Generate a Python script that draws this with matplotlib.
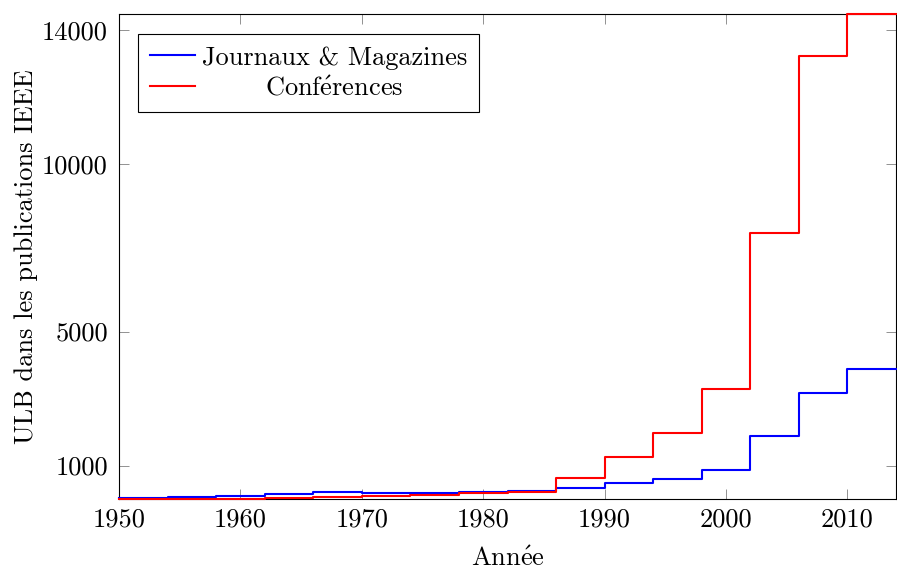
import matplotlib
matplotlib.use("Agg")
import matplotlib.pyplot as plt

plt.rcParams['font.family'] = 'serif'
plt.rcParams['font.serif'] = ['cmr10']
plt.rcParams['mathtext.fontset'] = 'cm'
plt.rcParams['axes.formatter.use_mathtext'] = True
plt.rcParams['axes.unicode_minus'] = False

years = [1950, 1954, 1958, 1962, 1966, 1970, 1974, 1978, 1982, 1986, 1990,
         1994, 1998, 2002, 2006, 2010, 2014]
journaux = [20, 45, 75, 135, 205, 175, 165, 205, 235, 325, 465,
            610, 880, 1885, 3175, 3870, 3870]
conferences = [5, 5, 10, 25, 45, 75, 105, 175, 220, 640, 1240,
               1975, 3290, 7950, 13220, 14480, 14480]
labels = ['Journaux & Magazines', r'Conf$\acute{\mathrm{e}}$rences']
xticks = [1950, 1960, 1970, 1980, 1990, 2000, 2010]
yticks = [1000, 5000, 10000, 14000]

FS = 19
fig = plt.figure(figsize=(8.97, 5.70), dpi=100)
ax = fig.add_axes([119/897, 71/570, 777/897, 485/570])

l1, = ax.step(years, journaux, where='post', color=(0, 0, 1), lw=1.5,
              clip_on=False, zorder=3, label=labels[0])
l2, = ax.step(years, conferences, where='post', color=(1, 0, 0), lw=1.5,
              clip_on=False, zorder=3, label=labels[1])

ax.set_xlim(1950, 2014)
ax.set_ylim(0, 14480)
ax.set_xticks(xticks)
ax.set_yticks(yticks)
ax.set_xticklabels([str(v) for v in xticks])
ax.set_yticklabels([str(v) for v in yticks])
ax.tick_params(direction='in', length=7, width=0.6, color='#808080',
               top=True, right=True, labelsize=FS)
ax.tick_params(axis='x', pad=6)
ax.tick_params(axis='y', pad=8)
for s in ax.spines.values():
    s.set_linewidth(0.8)
    s.set_color('black')

ax.set_xlabel(r'Ann$\acute{\mathrm{e}}$e', fontsize=FS, labelpad=11)
ax.set_ylabel('ULB dans les publications IEEE', fontsize=FS, labelpad=3)

leg = ax.legend(loc='upper left', bbox_to_anchor=(19/777, 1 - 20/485),
                borderaxespad=0, fontsize=FS, handlelength=1.7,
                handletextpad=0.27, borderpad=0.45, labelspacing=0.25,
                fancybox=False, frameon=True, framealpha=1)
leg.get_frame().set_edgecolor('black')
leg.get_frame().set_linewidth(0.8)

# center legend text within its column (as in the original)
fig.canvas.draw()
r = fig.canvas.get_renderer()
texts = leg.get_texts()
widths = [t.get_window_extent(r).width for t in texts]
wmax = max(widths)
for t, w in zip(texts, widths):
    t.set_x((wmax - w) / 2)

fig.savefig('out.png', dpi=100)
